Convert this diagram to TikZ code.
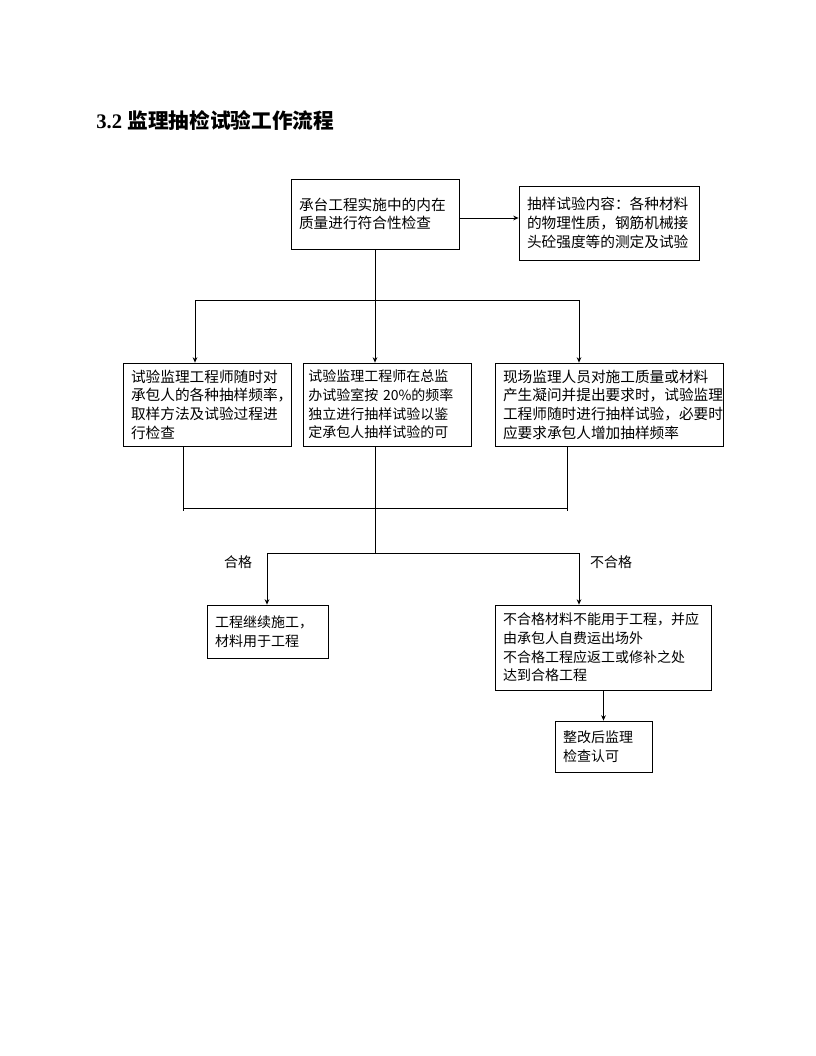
\documentclass[tikz,border=0pt]{standalone}
\usepackage{fontspec}
\setmainfont{Liberation Serif}
\newfontfamily\cjk{Noto Sans CJK SC}
\usetikzlibrary{positioning, arrows.meta}

\tikzset{
  box/.style={draw, align=left, inner xsep=6pt, inner ysep=2pt,
    font=\cjk\fontsize{11}{14}\selectfont},
  lowbox/.style={box, font=\cjk\fontsize{10.5}{14}\selectfont},
  label/.style={font=\cjk\fontsize{10.5}{14}\selectfont}
}

\begin{document}
\begin{tikzpicture}[x=0.75pt, y=-0.75pt, >={Stealth[length=4pt, width=3.5pt]}, line width=0.6pt]
            \useasboundingbox (0,0) rectangle (816,1056);

            \node[anchor=west, inner sep=0pt, font=\bfseries\fontsize{15.5}{18}\selectfont] (t) at (96,121) {3.2 {\cjk 监理抽检试验工作流程}};

            \node[box, text width=114pt, minimum height=52.5pt] (0) at (375,214) {承台工程实施中的内在\\质量进行符合性检查};
            \node[box, text width=123pt, minimum height=55.5pt] (1) at (609,223) {抽样试验内容：各种材料\\的物理性质，钢筋机械接\\头砼强度等的测定及试验};
            \node[box, text width=114pt, minimum height=62.25pt] (2) at (207,404.5) {试验监理工程师随时对\\承包人的各种抽样频率，\\取样方法及试验过程进\\行检查};
            \node[lowbox, inner xsep=4pt, text width=118pt, minimum height=62.25pt] (3) at (387,404.5) {试验监理工程师在总监\\\mbox{办试验室按 20\%的频率}\\独立进行抽样试验以鉴\\定承包人抽样试验的可};
            \node[box, text width=159pt, minimum height=62.25pt] (4) at (609,404.5) {现场监理人员对施工质量或材料\\产生凝问并提出要求时，试验监理\\工程师随时进行抽样试验，必要时\\应要求承包人增加抽样频率};
            \node[lowbox, text width=78.75pt, minimum height=39.75pt] (5) at (267.5,631.5) {工程继续施工，\\材料用于工程};
            \node[lowbox, text width=150pt, minimum height=63.75pt] (6) at (603,647.5) {不合格材料不能用于工程，并应\\由承包人自费运出场外\\不合格工程应返工或修补之处\\达到合格工程};
            \node[lowbox, text width=60.75pt, minimum height=38.25pt] (7) at (603.5,746.5) {整改后监理\\检查认可};

            \node[label] (8) at (238,562) {合格};
            \node[label] (9) at (611,562) {不合格};

            \coordinate (a) at (375,300);
            \coordinate (al) at (195,300);
            \coordinate (ar) at (579,300);
            \coordinate (bl) at (183,511);
            \coordinate (bm) at (375,508);
            \coordinate (br) at (567,511);
            \coordinate (c) at (375,553);
            \coordinate (cl) at (267,553);
            \coordinate (cr) at (579,553);

            % branch out
            \draw (0) -- (a);
            \draw (al) -- (ar);
            \path[->]
            ([yshift=-3pt]0.east) edge ([yshift=-3pt]0.east -| 1.west)
            (al) edge (al |- 2.north)
            (a) edge (a |- 3.north)
            (ar) edge (ar |- 4.north);

            % gather
            \draw (2.south -| bl) -- (bl);
            \draw (3.south -| bm) -- (c);
            \draw (4.south -| br) -- (br);
            \draw (bl |- bm) -- (br |- bm);
            \draw (cl) -- (cr);
            \path[->]
            (cl) edge (cl |- 5.north)
            (cr) edge (cr |- 6.north)
            (6.south -| 7.north) edge (7.north);
        \end{tikzpicture}
\end{document}
